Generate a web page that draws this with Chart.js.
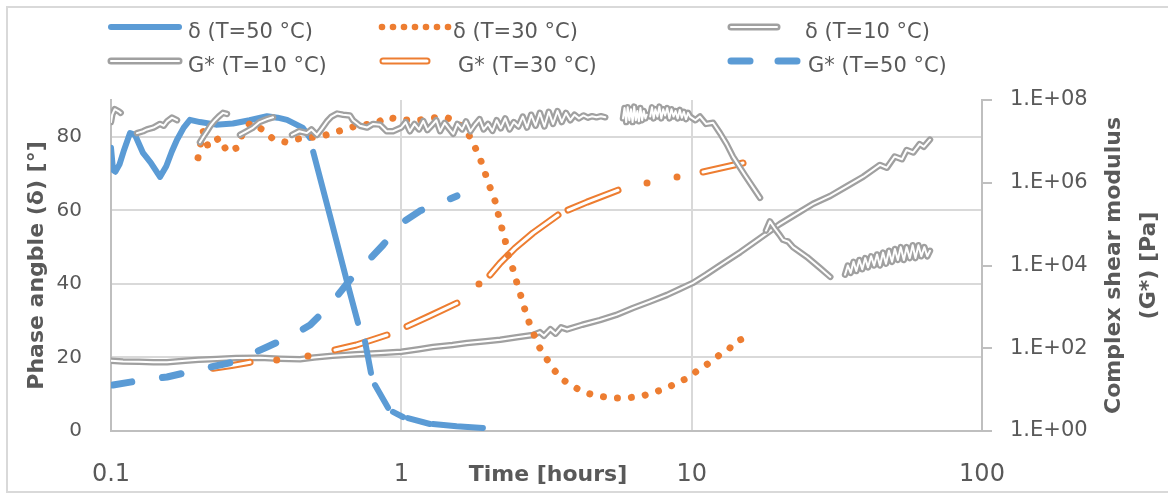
<!DOCTYPE html>
<html><head><meta charset="utf-8">
<script src="https://cdn.jsdelivr.net/npm/chart.js@4.4.1/dist/chart.umd.min.js"></script>
<style>html,body{margin:0;padding:0;background:#fff;overflow:hidden}canvas{display:block}</style>
</head><body>
<canvas id="c" width="1168" height="493" style="width:1168px;height:493px"></canvas>
<script>
// ---------- text ----------
const seriesNames = ['δ (T=50 °C)', 'δ (T=30 °C)', 'δ (T=10 °C)', 'G* (T=10 °C)', 'G* (T=30 °C)', 'G* (T=50 °C)'];
const xTickValues = [0.1, 1, 10, 100];
const xTickLabels = ['0.1', '1', '10', '100'];
const yTickValues = [0, 20, 40, 60, 80];
const yTickLabels = ['0', '20', '40', '60', '80'];
const y2TickValues = [1, 1e2, 1e4, 1e6, 1e8];
const y2TickLabels = ['1.E+00', '1.E+02', '1.E+04', '1.E+06', '1.E+08'];
const xTitle = 'Time [hours]';
const yTitle = 'Phase angble (δ) [°]';
const y2Title = ['Complex shear modulus', '(G*) [Pa]'];

// ---------- data: [time (h), value]  (null = gap) ----------
const delta50 = [[0.1,77],[0.1016,71],[0.1035,70.5],[0.107,72.5],[0.111,76.5],[0.1163,81],[0.121,80.5],[0.1289,75.6],[0.137,73],[0.1475,69.1],[0.155,72],[0.162,76],[0.1688,79.2],[0.178,82.5],[0.187,84.6],[0.2025,84],[0.23,83.3],[0.263,83.6],[0.30,84.5],[0.3446,85.6],[0.375,85.2],[0.404,84.6],[0.4583,82.4],[0.485,79.7],[0.491,null],[0.497,75.9],[0.5678,58.5],[0.65,40.6],[0.709,29.4],[0.73,null],[0.7499,24.3],[0.786,15.8],[0.80,null],[0.8115,12.5],[0.90,6.3],[0.918,null],[0.9361,5.2],[1.013,3.8],[1.03,null],[1.054,3.5],[1.255,1.9],[1.27,null],[1.285,1.9],[1.55,1.3],[1.91,0.8]];

const delta30 = [[0.1994,74.3],[0.2075,81.6],[0.2159,77.3],[0.2246,78.6],[0.2373,79.7],[0.2509,75.9],[0.2716,77],[0.2826,80.5],[0.3013,83.8],[0.3339,81.9],[0.3614,79.4],[0.3974,78.6],[0.4236,79.2],[0.4658,79.7],[0.5246,80],[0.6006,81.4],[0.6816,82.7],[0.8246,83.8],[0.8925,85.4],[0.9895,84.6],[1.15,84.5],[1.285,85.2],[1.437,85.2],[1.55,84],[1.684,81.4],[1.765,78.4],[1.851,74.8],[1.926,71.3],[1.988,67.5],[2.036,65.6],[2.119,61.8],[2.17,58],[2.276,52],[2.331,47.9],[2.406,44.9],[2.483,41.1],[2.625,34.8],[2.709,31],[2.841,26.9],[2.956,23.4],[3.149,19.9],[3.356,16.6],[3.605,13.9],[3.84,12.5],[4.225,10.6],[4.757,9.5],[5.316,9.0],[5.989,9.0],[6.745,9.5],[7.475,10.6],[8.226,11.7],[8.903,13.1],[9.869,14.7],[10.51,16.6],[11.11,17.7],[11.85,19.3],[12.72,21.2],[13.55,22.6],[13.88,23.9],[14.91,25]];

const delta10 = [[0.1,84],[0.101,86],[0.103,87.5],[0.106,87],[0.108,86.5],[0.115,null],
[0.1229,81],[0.129,81.5],[0.133,82],[0.14,82.5],[0.1475,83.5],[0.152,83],[0.156,84.2],[0.1622,85.2],[0.1688,84.5],[0.185,null],
[0.2025,78.5],[0.208,80],[0.2141,81.5],[0.22,83],[0.2282,84.5],[0.235,85.5],[0.2431,86.5],[0.2509,86.2],[0.265,null],
[0.2782,80.5],[0.293,81.5],[0.3085,82.5],[0.325,84],[0.3446,84.8],[0.3614,85.3],[0.39,null],
[0.4202,80.5],[0.445,81.5],[0.4731,81],[0.49,82],[0.5122,80.5],[0.53,82],[0.5546,84.2],[0.575,85.5],[0.6006,86.3],[0.63,86],[0.6653,85.8],[0.6816,84.5],[0.72,83],[0.7616,82.5],[0.80,83.5],[0.8444,83.3],[0.89,81.5],[0.9361,81.5],
[1.0,82.5],[1.035,84],[1.07,81.5],[1.11,83.5],[1.15,82],[1.19,84.3],[1.23,81.8],[1.27,83],[1.32,84.5],[1.36,81.5],[1.41,83.8],[1.46,82.2],[1.51,80.8],[1.56,83.5],[1.62,82],[1.67,84.2],[1.73,81.5],[1.79,83.2],[1.86,84.8],[1.92,82],[1.99,83.5],[2.06,81.6],[2.13,84.5],[2.2,82.3],[2.28,85],[2.36,82],[2.44,84],[2.53,82.8],[2.62,85.5],[2.71,82.5],[2.8,86],[2.9,83],[3.0,86.5],[3.11,82.8],[3.22,86.8],[3.33,83.5],[3.45,87],[3.57,84],[3.69,86.5],[3.82,84.5],[3.95,86],[4.09,85],[4.24,85.8],[4.39,85.2],[4.54,85.6],[4.7,85.3],[4.87,85.6],[5.04,85.3],[5.4,null],
[5.8,85],[5.87,87.8],[5.95,84],[6.02,88],[6.1,84.5],[6.18,87.5],[6.26,84],[6.34,88.2],[6.42,84.5],[6.5,87],[6.58,84.2],[6.66,87.8],[6.75,84.5],[6.84,87],[6.93,85],[7.0,86],[7.1,null],
[7.2,85.5],[7.3,88],[7.4,85],[7.5,87.5],[7.62,85.5],[7.74,88.2],[7.86,85],[7.98,87.5],[8.1,85.8],[8.24,87.8],[8.38,85],[8.52,87.5],[8.66,85.5],[8.8,87],[8.95,85],[9.1,87.3],[9.25,85.2],[9.4,86.8],[9.56,84.8],[9.72,86.5],[9.87,85.5],[10.3,84.5],[10.68,85.5],[11.2,83.5],[11.85,83.8],[12.52,81],[13.2,78],[13.88,74.6],[15.27,69.5],[17.2,63.4],[17.6,null],
[18.03,54.5],[18.6,57],[19.36,55],[20,53.5],[20.63,52],[21.5,51.5],[22.34,50],[24.96,47.3],[27.68,44.3],[30.03,41.9],[32,null],
[33.74,42.5],[34.5,45],[35.3,43],[36.1,46],[36.9,43.5],[37.8,46.5],[38.7,44],[39.6,47],[40.5,44.5],[41.5,47.5],[42.5,45],[43.5,48],[44.5,45],[45.6,48.5],[46.7,45.5],[47.8,49],[49,46],[50.1,49.5],[51.3,46.5],[52.5,50],[53.8,46.5],[55,50],[56.4,47],[57.7,50.5],[59,47],[60.4,50.5],[61.8,47.5],[63.3,50],[64.8,47.5],[66.2,49]];

const gStar10 = [[0.1,50],[0.11,48],[0.125,47],[0.14,46],[0.156,46],[0.18,50],[0.2,53],[0.2316,55],[0.27,58],[0.326,59],[0.38,56],[0.448,54],[0.5,60],[0.58,66],[0.7,72],[0.85,77],[1.0,82],[1.15,95],[1.285,107],[1.5,120],[1.684,134],[1.95,148],[2.19,160],[2.5,185],[2.84,210],[3.0,245],[3.1,200],[3.26,290],[3.4,225],[3.55,320],[3.72,285],[4.2,370],[4.83,480],[5.5,640],[6.28,940],[7.2,1350],[8.23,1950],[9.1,2700],[10.1,3800],[11.2,6000],[12.5,10000],[14.7,21000],[17.2,46000],[20.1,100000],[23.5,195000],[26.2,310000],[30,480000],[34.3,830000],[39,1.4e6],[44.5,2.7e6],[47,2.3e6],[50,4.3e6],[53,3.7e6],[55,6.2e6],[58,5.4e6],[61,8.6e6],[63,7.4e6],[66.2,1.1e7]];

const gStar30 = [[0.2246,33],[0.26,38],[0.3013,46],[0.33,null],[0.5907,91],[0.7,120],[0.8925,209],[0.95,null],[1.046,339],[1.25,600],[1.554,1230],[1.7,null],[2.02,5900],[2.19,11500],[2.464,26300],[2.84,61000],[3.464,166000],[3.6,null],[3.751,219000],[4.36,340000],[5.576,660000],[6,null],[10.94,1.82e6],[15.03,3.0e6]];
const gStar30Dots = [[0.3722,52],[0.4769,65],[1.851,3550],[7.018,9.8e5],[8.903,1.38e6]];

const gStar50 = [[0.1016,12.9],[0.1289,17.1],[0.156,20.2],[0.1978,29.8],[0.263,46],[0.3446,107],[0.4236,209],[0.485,363],[0.5678,1110],[0.6653,4470],[0.865,31300],[0.9895,100000],[1.16,210000],[1.285,275000],[1.554,480000]];

// ---------- styles ----------
const BLUE = '#5B9BD5', ORANGE = '#ED7D31', GRAY = '#A0A0A0', TXT = '#595959', GRID = '#D9D9D9', AXIS = '#BFBFBF';
const FONT = '"DejaVu Sans", sans-serif';

const pts = arr => arr.map(p => ({x: p[0], y: p[1]}));
const datasets = []; // bottom -> top
function addLine(data, axis, opts) {
  datasets.push(Object.assign({data: pts(data), yAxisID: axis, pointRadius: 0, pointHoverRadius: 0, fill: false,
    tension: 0, borderCapStyle: 'round', borderJoinStyle: 'round', spanGaps: false}, opts));
}
addLine(gStar10, 'y2', {label: seriesNames[3], borderColor: GRAY, borderWidth: 6.5});
addLine(gStar10, 'y2', {label: '', borderColor: '#fff', borderWidth: 2});
addLine(gStar30, 'y2', {label: seriesNames[4], borderColor: ORANGE, borderWidth: 7});
addLine(gStar30, 'y2', {label: '', borderColor: '#fff', borderWidth: 3});
datasets.push({label: '', data: pts(gStar30Dots), yAxisID: 'y2', showLine: false, pointRadius: 3.5, pointHoverRadius: 0,
  pointBackgroundColor: ORANGE, pointBorderWidth: 0, borderColor: ORANGE});
addLine(gStar50, 'y2', {label: seriesNames[5], borderColor: BLUE, borderWidth: 7, borderDash: [19, 31]});
addLine(delta50, 'y', {label: seriesNames[0], borderColor: BLUE, borderWidth: 6});
addLine(delta30, 'y', {label: seriesNames[1], borderColor: ORANGE, borderWidth: 7, borderDash: [0.01, 14]});
addLine(delta10, 'y', {label: seriesNames[2], borderColor: GRAY, borderWidth: 6.5});
addLine(delta10, 'y', {label: '', borderColor: '#fff', borderWidth: 2});
datasets.forEach((d, i) => d.order = datasets.length - i);

// ---------- plugins ----------
const frame = {
  id: 'frame',
  beforeDraw(chart) {
    const c = chart.ctx; c.save();
    c.fillStyle = '#fff'; c.fillRect(0, 0, chart.width, chart.height);
    c.strokeStyle = GRID; c.lineWidth = 2;
    c.strokeRect(7, 7, 1175, 485);
    c.restore();
  }
};
const legendAndTitles = {
  id: 'legendAndTitles',
  afterDraw(chart) {
    const c = chart.ctx; c.save();
    const area = chart.chartArea;
    const midY = (area.top + area.bottom) / 2;
    // titles
    c.fillStyle = TXT; c.font = 'bold 22px ' + FONT; c.textAlign = 'center'; c.textBaseline = 'alphabetic';
    c.fillText(xTitle, 548, 481);
    c.save(); c.translate(43, midY); c.rotate(-Math.PI / 2); c.fillText(yTitle, 0, 0); c.restore();
    c.save(); c.translate(1120, midY); c.rotate(-Math.PI / 2); c.fillText(y2Title[0], 0, 0); c.restore();
    c.save(); c.translate(1155, midY); c.rotate(-Math.PI / 2); c.fillText(y2Title[1], 0, 0); c.restore();
    // legend
    const rows = [27, 61], base = [38, 72];
    const items = [
      {name: seriesNames[0], r: 0, x1: 111, x2: 179, tx: 188, kind: 'solid', col: BLUE},
      {name: seriesNames[1], r: 0, x1: 382, x2: 448, tx: 453, kind: 'dots', col: ORANGE},
      {name: seriesNames[2], r: 0, x1: 731, x2: 777, tx: 805, kind: 'double', col: GRAY},
      {name: seriesNames[3], r: 1, x1: 111, x2: 179, tx: 188, kind: 'double', col: GRAY},
      {name: seriesNames[4], r: 1, x1: 383, x2: 427, tx: 458, kind: 'double', col: ORANGE},
      {name: seriesNames[5], r: 1, x1: 731, x2: 797, tx: 808, kind: 'dash', col: BLUE}
    ];
    c.lineCap = 'round';
    items.forEach(it => {
      const y = rows[it.r];
      c.strokeStyle = it.col; c.fillStyle = it.col;
      if (it.kind === 'solid') {
        c.lineWidth = 6; c.beginPath(); c.moveTo(it.x1, y); c.lineTo(it.x2, y); c.stroke();
      } else if (it.kind === 'dots') {
        for (let x = it.x1; x <= it.x2 + 0.5; x += 11) { c.beginPath(); c.arc(x, y, 3.3, 0, Math.PI * 2); c.fill(); }
      } else if (it.kind === 'double') {
        c.lineWidth = 7; c.beginPath(); c.moveTo(it.x1, y); c.lineTo(it.x2, y); c.stroke();
        c.strokeStyle = '#fff'; c.lineWidth = it.col === GRAY ? 2 : 3;
        c.beginPath(); c.moveTo(it.x1, y); c.lineTo(it.x2, y); c.stroke();
      } else if (it.kind === 'dash') {
        c.lineWidth = 7;
        c.beginPath(); c.moveTo(it.x1, y); c.lineTo(it.x1 + 19, y); c.stroke();
        c.beginPath(); c.moveTo(it.x2 - 19, y); c.lineTo(it.x2, y); c.stroke();
      }
      c.fillStyle = TXT; c.font = '21px ' + FONT; c.textAlign = 'left'; c.textBaseline = 'alphabetic';
      c.fillText(it.name, it.tx, base[it.r]);
    });
    c.restore();
  }
};

new Chart(document.getElementById('c'), {
  type: 'line',
  data: {datasets},
  plugins: [frame, legendAndTitles],
  options: {
    responsive: false, animation: false, devicePixelRatio: 1,
    layout: {padding: {top: 100, left: 0, right: 0, bottom: 0}},
    plugins: {legend: {display: false}, tooltip: {enabled: false}},
    events: [],
    scales: {
      x: {
        type: 'logarithmic', position: 'bottom', min: 0.1, max: 100,
        afterBuildTicks: s => { s.ticks = xTickValues.map(v => ({value: v})); },
        afterFit: s => { s.height = 62; },
        ticks: {callback: (v, i) => xTickLabels[i], color: TXT, font: {family: FONT, size: 24}, padding: 29, maxRotation: 0, autoSkip: false},
        grid: {color: GRID, lineWidth: 2, drawTicks: false},
        border: {color: AXIS, width: 2}
      },
      y: {
        type: 'linear', position: 'left', min: 0, max: 90,
        afterBuildTicks: s => { s.ticks = yTickValues.map(v => ({value: v})); },
        afterFit: s => { s.width = 111; },
        ticks: {callback: (v, i) => yTickLabels[i], color: TXT, font: {family: FONT, size: 20}, padding: 29},
        grid: {color: GRID, lineWidth: 2, drawTicks: false},
        border: {color: AXIS, width: 2}
      },
      y2: {
        type: 'logarithmic', position: 'right', min: 1, max: 1e8,
        afterBuildTicks: s => { s.ticks = y2TickValues.map(v => ({value: v})); },
        afterFit: s => { s.width = 186; },
        ticks: {callback: (v, i) => y2TickLabels[i], color: TXT, font: {family: FONT, size: 21}, padding: 18},
        grid: {drawOnChartArea: false, drawTicks: true, tickLength: 10, color: AXIS, lineWidth: 2},
        border: {color: AXIS, width: 2}
      }
    }
  }
});
</script>
</body></html>
